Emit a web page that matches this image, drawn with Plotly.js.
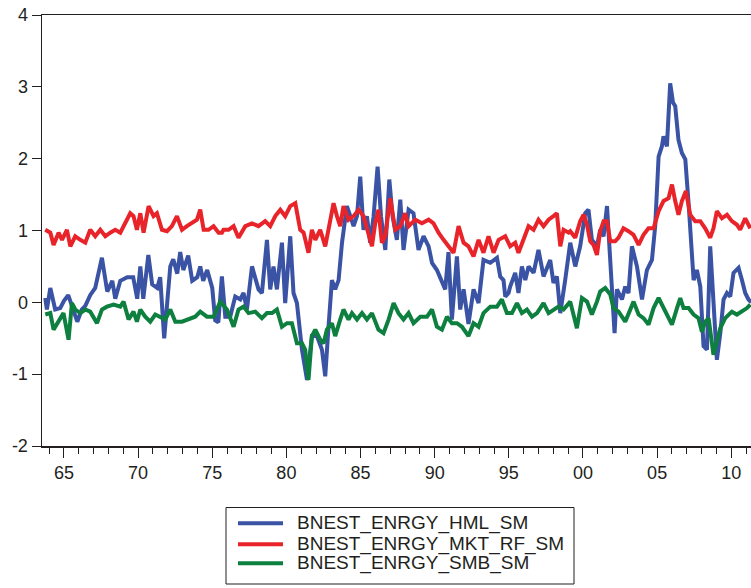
<!DOCTYPE html>
<html>
<head>
<meta charset="utf-8">
<script src="https://cdn.plot.ly/plotly-3.0.1.min.js"></script>
<style>html,body{margin:0;padding:0;background:#fff;}#chart{width:751px;height:588px;}</style>
</head>
<body>
<div id="chart"></div>
<script>
// Series names
const seriesNames = ["BNEST_ENRGY_HML_SM", "BNEST_ENRGY_MKT_RF_SM", "BNEST_ENRGY_SMB_SM"];

// HML (blue)
const hmlYears = [1963.74,1963.85,1964.08,1964.41,1964.75,1965.0,1965.29,1965.9,1966.2,1966.44,1966.77,1967.11,1967.56,1967.92,1968.26,1968.46,1968.8,1969.27,1969.67,1969.94,1970.15,1970.35,1970.69,1970.95,1971.29,1971.49,1971.76,1971.97,1972.17,1972.37,1972.64,1972.84,1973.05,1973.38,1973.65,1973.99,1974.19,1974.39,1974.66,1975.0,1975.2,1975.41,1975.65,1975.88,1976.21,1976.55,1976.89,1977.11,1977.34,1977.68,1977.9,1978.12,1978.35,1978.69,1978.91,1979.13,1979.36,1979.7,1979.92,1980.26,1980.48,1980.71,1981.05,1981.39,1981.72,1982.06,1982.4,1982.62,1982.84,1983.07,1983.29,1983.52,1983.75,1984.08,1984.31,1984.53,1984.76,1984.98,1985.2,1985.43,1985.65,1985.88,1986.15,1986.38,1986.67,1986.94,1987.16,1987.45,1987.68,1987.9,1988.24,1988.57,1988.91,1989.25,1989.59,1989.82,1990.15,1990.49,1990.71,1990.93,1991.16,1991.5,1991.72,1991.95,1992.28,1992.62,1992.96,1993.29,1993.75,1994.2,1994.42,1994.64,1994.76,1994.98,1995.09,1995.43,1995.65,1995.88,1996.11,1996.33,1996.67,1997.0,1997.34,1997.79,1998.01,1998.24,1998.47,1998.8,1999.14,1999.48,1999.81,2000.15,2000.37,2000.6,2000.94,2001.16,2001.39,2001.62,2001.84,2002.13,2002.29,2002.63,2002.85,2003.07,2003.3,2003.64,2003.98,2004.31,2004.65,2004.87,2005.1,2005.32,2005.43,2005.66,2005.88,2006.07,2006.22,2006.44,2006.67,2006.9,2007.12,2007.35,2007.46,2007.68,2007.91,2008.13,2008.36,2008.58,2008.8,2009.03,2009.26,2009.48,2009.71,2009.93,2010.15,2010.49,2010.72,2010.94,2011.16,2011.35];
const hmlVals = [0.06,-0.1,0.2,-0.1,-0.08,0.02,0.1,-0.27,-0.1,-0.05,0.1,0.2,0.62,0.15,0.3,0.05,0.3,0.35,0.35,0.05,0.5,0.05,0.66,0.25,0.2,0.35,-0.5,0.0,0.5,0.6,0.4,0.7,0.45,0.65,0.3,0.35,0.5,0.3,0.45,0.2,-0.25,-0.28,0.36,-0.2,-0.2,0.08,0.04,0.13,-0.1,0.5,0.36,0.18,0.13,0.87,0.18,0.5,0.18,0.83,-0.01,0.92,0.13,-0.01,-0.66,-1.08,-0.47,-0.47,-0.66,-1.03,-0.34,0.31,0.18,0.31,0.83,1.34,1.2,1.06,1.2,1.75,1.01,1.2,0.83,1.2,1.89,1.2,0.73,1.71,1.2,0.87,1.43,0.73,1.29,1.24,0.73,0.92,0.78,0.55,0.45,0.27,0.18,0.7,-0.24,0.64,-0.1,0.18,-0.3,0.18,-0.01,0.59,0.55,0.62,0.36,0.31,0.08,0.13,0.22,0.41,0.13,0.5,0.31,0.5,0.41,0.73,0.36,0.59,0.27,0.36,-0.15,0.31,0.83,0.5,0.78,1.24,1.29,0.87,0.78,1.01,0.92,1.34,0.5,-0.43,0.18,0.04,0.22,0.13,0.78,0.5,0.04,0.45,0.59,1.06,2.03,2.17,2.31,2.17,3.05,2.78,2.73,2.26,2.08,1.99,1.38,0.59,0.31,0.45,0.22,-0.61,-0.66,0.78,-0.1,-0.8,-0.43,0.04,0.13,0.08,0.41,0.48,0.31,0.13,0.04,0.0];

// MKT_RF (red)
const mktYears = [1963.74,1964.08,1964.3,1964.64,1964.87,1965.2,1965.43,1965.76,1966.1,1966.44,1966.77,1967.11,1967.45,1967.79,1968.12,1968.46,1968.8,1969.13,1969.47,1969.69,1969.92,1970.15,1970.37,1970.71,1971.04,1971.27,1971.61,1971.95,1972.28,1972.62,1972.96,1973.29,1973.63,1973.97,1974.19,1974.42,1974.75,1975.09,1975.43,1975.65,1975.76,1976.1,1976.44,1976.77,1977.23,1977.68,1978.12,1978.57,1978.91,1979.25,1979.59,1979.92,1980.26,1980.6,1980.93,1981.16,1981.49,1981.72,1981.95,1982.28,1982.62,1982.84,1983.18,1983.41,1983.63,1983.85,1984.19,1984.53,1984.87,1985.2,1985.54,1985.77,1985.99,1986.21,1986.44,1986.67,1987.0,1987.23,1987.34,1987.68,1988.01,1988.24,1988.69,1989.14,1989.59,1989.92,1990.26,1990.6,1990.93,1991.27,1991.61,1991.95,1992.28,1992.62,1992.96,1993.29,1993.63,1993.97,1994.31,1994.76,1995.09,1995.43,1995.65,1995.99,1996.33,1996.67,1997.0,1997.34,1997.68,1998.01,1998.24,1998.47,1998.69,1999.03,1999.14,1999.48,1999.81,2000.04,2000.27,2000.49,2000.71,2000.94,2001.16,2001.39,2001.62,2001.84,2002.17,2002.4,2002.73,2003.07,2003.41,2003.75,2004.08,2004.42,2004.76,2005.1,2005.43,2005.77,2006.0,2006.22,2006.44,2006.67,2006.94,2007.23,2007.57,2007.91,2008.24,2008.58,2008.8,2009.03,2009.37,2009.71,2010.04,2010.38,2010.6,2010.94,2011.28];
const mktVals = [1.01,0.97,0.8,0.97,0.87,1.01,0.78,0.92,0.87,0.83,1.01,0.92,1.01,0.92,0.97,1.01,0.97,1.1,1.24,1.2,1.01,1.24,0.97,1.34,1.2,1.24,1.01,0.99,1.06,1.2,1.01,1.06,1.1,1.15,1.29,1.01,1.01,1.06,0.97,0.97,1.01,1.01,1.06,0.9,1.06,1.1,1.06,1.13,1.06,1.2,1.29,1.2,1.34,1.38,1.01,0.97,0.69,1.01,0.87,1.01,0.78,1.01,1.38,1.2,1.06,1.34,1.15,1.2,1.29,1.2,0.92,0.78,1.1,1.29,0.83,0.92,1.45,1.1,1.01,1.06,1.24,1.06,1.15,1.1,1.15,1.1,0.97,0.87,0.78,0.69,1.06,0.83,0.78,0.64,0.87,0.69,0.92,0.69,0.87,0.92,0.78,0.83,0.69,0.87,1.06,1.01,1.15,1.06,1.15,1.2,1.24,0.78,1.01,0.97,0.99,0.9,1.13,1.22,1.08,0.85,0.8,0.66,0.99,1.13,1.13,0.85,0.85,0.9,1.03,0.99,0.94,0.8,0.94,1.03,1.03,1.27,1.41,1.45,1.64,1.41,1.22,1.41,1.55,1.22,1.13,1.13,1.03,0.9,1.03,1.27,1.17,1.22,1.13,1.08,1.01,1.17,1.03];

// SMB (green)
const smbYears = [1963.74,1964.08,1964.3,1964.64,1964.97,1965.31,1965.54,1965.76,1966.1,1966.44,1966.77,1967.23,1967.56,1967.9,1968.35,1968.8,1969.02,1969.36,1969.69,1969.92,1970.15,1970.48,1970.82,1971.16,1971.49,1971.83,1972.17,1972.51,1972.96,1973.4,1973.85,1974.19,1974.64,1975.09,1975.54,1975.99,1976.44,1976.77,1977.11,1977.45,1977.9,1978.35,1978.69,1979.03,1979.36,1979.7,1980.04,1980.37,1980.71,1981.05,1981.27,1981.49,1981.72,1981.95,1982.28,1982.51,1982.73,1983.07,1983.29,1983.63,1983.85,1984.19,1984.42,1984.76,1985.1,1985.43,1985.77,1986.21,1986.55,1986.89,1987.23,1987.56,1987.9,1988.24,1988.57,1989.03,1989.48,1989.82,1990.15,1990.49,1990.83,1991.16,1991.5,1991.84,1992.28,1992.62,1992.96,1993.29,1993.75,1994.2,1994.53,1994.87,1995.21,1995.55,1995.88,1996.22,1996.56,1996.9,1997.34,1997.68,1998.01,1998.35,1998.69,1999.03,1999.14,1999.59,1999.93,2000.27,2000.6,2000.94,2001.16,2001.5,2001.84,2002.06,2002.4,2002.85,2003.19,2003.41,2003.75,2004.08,2004.42,2004.76,2005.1,2005.43,2005.66,2006.0,2006.34,2006.56,2006.78,2007.12,2007.46,2007.79,2008.02,2008.24,2008.47,2008.7,2008.8,2009.03,2009.26,2009.59,2010.04,2010.38,2010.72,2011.06,2011.28];
const smbVals = [-0.17,-0.15,-0.38,-0.27,-0.15,-0.52,-0.01,-0.1,-0.15,-0.1,-0.13,-0.29,-0.1,-0.06,-0.03,-0.06,0.01,-0.24,-0.13,-0.27,-0.1,-0.2,-0.27,-0.17,-0.2,-0.24,-0.1,-0.27,-0.27,-0.24,-0.2,-0.13,-0.2,-0.2,0.01,-0.1,-0.34,-0.1,-0.06,-0.15,-0.13,-0.22,-0.15,-0.15,-0.1,-0.34,-0.29,-0.29,-0.57,-0.57,-0.66,-1.08,-0.47,-0.38,-0.52,-0.57,-0.38,-0.29,-0.47,-0.24,-0.1,-0.24,-0.15,-0.24,-0.15,-0.24,-0.15,-0.38,-0.43,-0.24,-0.01,-0.15,-0.24,-0.15,-0.29,-0.2,-0.2,-0.1,-0.34,-0.38,-0.2,-0.29,-0.29,-0.34,-0.47,-0.29,-0.34,-0.15,-0.06,-0.06,0.04,-0.15,-0.15,-0.01,-0.15,-0.1,-0.2,-0.15,-0.01,-0.15,-0.1,-0.06,-0.1,-0.01,0.01,-0.36,0.06,0.01,-0.17,0.01,0.15,0.2,0.11,-0.08,-0.13,-0.27,-0.08,0.01,-0.17,-0.22,-0.31,-0.08,0.06,-0.08,-0.17,-0.31,-0.08,0.06,-0.08,-0.08,-0.17,-0.22,-0.41,-0.27,-0.22,-0.54,-0.73,-0.54,-0.36,-0.22,-0.13,-0.17,-0.13,-0.08,-0.03];

// Axis ticks
const xTickVals = [1965,1970,1975,1980,1985,1990,1995,2000,2005,2010];
const xTickText = ["65","70","75","80","85","90","95","00","05","10"];
const yTickVals = [-2,-1,0,1,2,3,4];
const yTickText = ["-2","-1","0","1","2","3","4"];

const colors = ["#3A53A4", "#E8242A", "#0D7F3F"];
const axisColor = "#231F20";
const fontFam = "Liberation Sans, Arial, sans-serif";

const traces = [
  {x: hmlYears, y: hmlVals, name: seriesNames[0]},
  {x: mktYears, y: mktVals, name: seriesNames[1]},
  {x: smbYears, y: smbVals, name: seriesNames[2]}
].map((t, i) => Object.assign(t, {
  type: "scatter", mode: "lines",
  line: {color: colors[i], width: 4},
  hoverinfo: "skip", showlegend: false
}));

// Custom legend box (pixel geometry converted to paper coords)
const plotL = 42, plotT = 15, plotW = 709, plotH = 431;
const px = v => (v - plotL) / plotW;
const py = v => 1 - (v - plotT) / plotH;
const legRows = [523.3, 544.3, 563.3];
const shapes = [
  {type: "rect", xref: "paper", yref: "paper", x0: px(226), x1: px(574), y0: py(507.5), y1: py(584),
   line: {color: axisColor, width: 1}, fillcolor: "rgba(0,0,0,0)"}
];
const annotations = [];
seriesNames.forEach((name, i) => {
  shapes.push({type: "line", xref: "paper", yref: "paper", x0: px(238), x1: px(283), y0: py(legRows[i]), y1: py(legRows[i]),
    line: {color: colors[i], width: 4}});
  annotations.push({xref: "paper", yref: "paper", x: px(295), y: py(legRows[i]), xanchor: "left", yanchor: "middle",
    text: name, showarrow: false, font: {family: fontFam, size: 19, color: axisColor}});
});

const layout = {
  width: 751, height: 588,
  margin: {l: plotL, r: 0, t: plotT, b: 588 - plotT - plotH, autoexpand: false},
  paper_bgcolor: "#fff", plot_bgcolor: "#fff",
  font: {family: fontFam, size: 18, color: axisColor},
  showlegend: false,
  shapes: shapes,
  annotations: annotations,
  xaxis: {
    range: [1963.52, 2011.33],
    showgrid: false, zeroline: false,
    showline: true, linecolor: axisColor, linewidth: 1.5, mirror: true,
    tickmode: "array", tickvals: xTickVals, ticktext: xTickText,
    ticks: "outside", ticklen: 10, tickwidth: 1, tickcolor: axisColor,
    tickfont: {family: fontFam, size: 18, color: axisColor},
    minor: {tick0: 1964, dtick: 1, ticks: "outside", ticklen: 6, tickwidth: 1, tickcolor: axisColor, showgrid: false}
  },
  yaxis: {
    range: [-2, 4],
    showgrid: false, zeroline: false,
    showline: true, linecolor: axisColor, linewidth: 1.5,
    tickmode: "array", tickvals: yTickVals, ticktext: yTickText,
    ticks: "outside", ticklen: 9, tickwidth: 1, tickcolor: axisColor,
    tickfont: {family: fontFam, size: 18, color: axisColor}
  }
};

Plotly.newPlot("chart", traces, layout, {staticPlot: true, displayModeBar: false});
</script>
</body>
</html>
